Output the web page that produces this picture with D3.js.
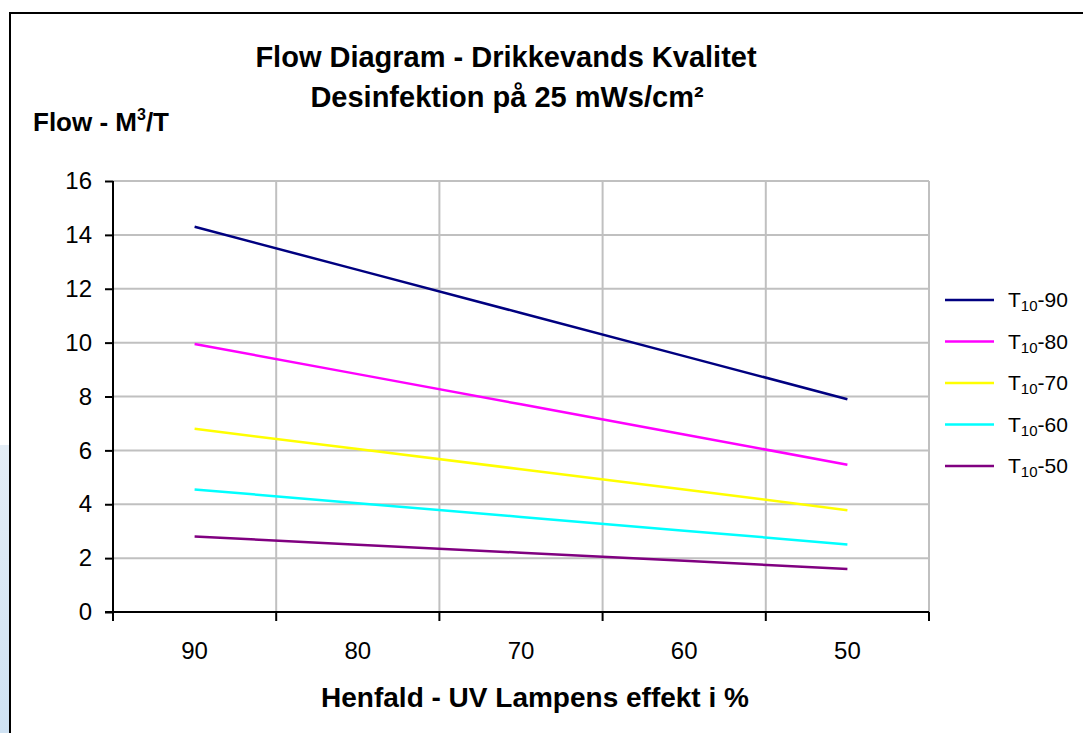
<!DOCTYPE html>
<html>
<head>
<meta charset="utf-8">
<script src="https://cdn.jsdelivr.net/npm/d3@7"></script>
<style>
  body { margin: 0; background: #fff; }
  text { font-family: "Liberation Sans", Arial, sans-serif; }
</style>
</head>
<body>
<script>
// categories on the x axis (lamp output in %)
const categories = ["90", "80", "70", "60", "50"];
const yTicks = [0, 2, 4, 6, 8, 10, 12, 14, 16];

// series names and values
const seriesNames = ["90", "80", "70", "60", "50"];
const t90 = [14.3, 12.7, 11.1, 9.5, 7.9];
const t80 = [9.95, 8.83, 7.71, 6.59, 5.47];
const t70 = [6.8, 6.05, 5.3, 4.55, 3.78];
const t60 = [4.55, 4.04, 3.53, 3.02, 2.51];
const t50 = [2.8, 2.5, 2.2, 1.9, 1.6];
const seriesColors = ["#000080", "#ff00ff", "#ffff00", "#00ffff", "#800080"];

const W = 1083, H = 733;
const plot = {left: 113, right: 929, top: 181, bottom: 612};

const svg = d3.select("body").append("svg")
  .attr("width", W)
  .attr("height", H);

// light blue strip left of the frame (background from the screenshot)
const grad = svg.append("defs").append("linearGradient")
  .attr("id", "strip").attr("x1", 0).attr("y1", 0).attr("x2", 0).attr("y2", 1);
grad.append("stop").attr("offset", "0%").attr("stop-color", "#e4edf6");
grad.append("stop").attr("offset", "100%").attr("stop-color", "#cfe2f3");
svg.append("rect")
  .attr("x", 0).attr("y", 445).attr("width", 9).attr("height", H - 445)
  .attr("fill", "url(#strip)");

// chart frame
svg.append("rect")
  .attr("x", 10).attr("y", 13)
  .attr("width", W + 10).attr("height", H + 10)
  .attr("fill", "#fff")
  .attr("stroke", "#000")
  .attr("stroke-width", 2);

const x = d3.scaleBand()
  .domain(categories)
  .range([plot.left, plot.right])
  .paddingInner(0)
  .paddingOuter(0);

const y = d3.scaleLinear()
  .domain([0, 16])
  .range([plot.bottom, plot.top]);

// horizontal gridlines
svg.append("g")
  .selectAll("line")
  .data(yTicks.filter(d => d > 0))
  .join("line")
  .attr("x1", plot.left).attr("x2", plot.right)
  .attr("y1", d => y(d)).attr("y2", d => y(d))
  .attr("stroke", "#c0c0c0")
  .attr("stroke-width", 2);

// vertical gridlines at the category boundaries
const bounds = categories.map(c => x(c)).concat([x.range()[1]]);
svg.append("g")
  .selectAll("line")
  .data(bounds.slice(1))
  .join("line")
  .attr("x1", d => d).attr("x2", d => d)
  .attr("y1", plot.top).attr("y2", plot.bottom)
  .attr("stroke", "#c0c0c0")
  .attr("stroke-width", 2);

// y axis
const yAxis = d3.axisLeft(y)
  .tickValues(yTicks)
  .tickSize(8)
  .tickPadding(13);
const yAxisGroup = svg.append("g")
  .attr("transform", `translate(${plot.left},0)`)
  .call(yAxis);
yAxisGroup.select(".domain").remove();
yAxisGroup.selectAll(".tick line").attr("stroke", "#000").attr("stroke-width", 2);
yAxisGroup.selectAll(".tick text")
  .attr("font-size", 24)
  .attr("fill", "#000");
yAxisGroup.append("line")
  .attr("x1", 0).attr("x2", 0)
  .attr("y1", plot.top).attr("y2", plot.bottom + 8)
  .attr("stroke", "#000").attr("stroke-width", 2);

// x axis: labels in the band centres, ticks on the boundaries
const xAxis = d3.axisBottom(x)
  .tickSize(0)
  .tickPadding(30);
const xAxisGroup = svg.append("g")
  .attr("transform", `translate(0,${plot.bottom})`)
  .call(xAxis);
xAxisGroup.select(".domain").remove();
xAxisGroup.selectAll(".tick text")
  .attr("font-size", 24)
  .attr("fill", "#000");
xAxisGroup.append("line")
  .attr("x1", plot.left - 8).attr("x2", plot.right)
  .attr("y1", 0).attr("y2", 0)
  .attr("stroke", "#000").attr("stroke-width", 2);
xAxisGroup.selectAll(".bound")
  .data(bounds)
  .join("line")
  .attr("class", "bound")
  .attr("x1", d => d).attr("x2", d => d)
  .attr("y1", 0).attr("y2", 9)
  .attr("stroke", "#000").attr("stroke-width", 2);

// series lines
const allSeries = [t90, t80, t70, t60, t50];
const line = d3.line()
  .x((d, i) => x(categories[i]) + x.bandwidth() / 2)
  .y(d => y(d));

svg.append("g")
  .selectAll("path")
  .data(allSeries)
  .join("path")
  .attr("d", d => line(d))
  .attr("fill", "none")
  .attr("stroke", (d, i) => seriesColors[i])
  .attr("stroke-width", 2.5);

// legend
const legend = svg.append("g")
  .selectAll("g")
  .data(seriesNames)
  .join("g")
  .attr("transform", (d, i) => `translate(945,${300 + i * 41.5})`);
legend.append("line")
  .attr("x1", 0).attr("x2", 49)
  .attr("stroke", (d, i) => seriesColors[i])
  .attr("stroke-width", 2.5);
const lt = legend.append("text")
  .attr("x", 63).attr("y", 7)
  .attr("font-size", 21)
  .attr("fill", "#000");
lt.append("tspan").text("T");
lt.append("tspan").attr("font-size", 15).attr("dy", 4).text("10");
lt.append("tspan").attr("dy", -4).text(d => "-" + d);

// titles
svg.append("text")
  .attr("x", 506).attr("y", 67)
  .attr("text-anchor", "middle")
  .attr("font-size", 29).attr("font-weight", "bold")
  .text("Flow Diagram - Drikkevands Kvalitet");
svg.append("text")
  .attr("x", 507).attr("y", 107)
  .attr("text-anchor", "middle")
  .attr("font-size", 29).attr("font-weight", "bold")
  .text("Desinfektion på 25 mWs/cm²");

const yTitle = svg.append("text")
  .attr("x", 33).attr("y", 131)
  .attr("font-size", 26).attr("font-weight", "bold");
yTitle.append("tspan").text("Flow - M");
yTitle.append("tspan").attr("font-size", 16).attr("dy", -11).text("3");
yTitle.append("tspan").attr("dy", 11).text("/T");

svg.append("text")
  .attr("x", 535).attr("y", 707)
  .attr("text-anchor", "middle")
  .attr("font-size", 28).attr("font-weight", "bold")
  .text("Henfald - UV Lampens effekt i %");
</script>
</body>
</html>
